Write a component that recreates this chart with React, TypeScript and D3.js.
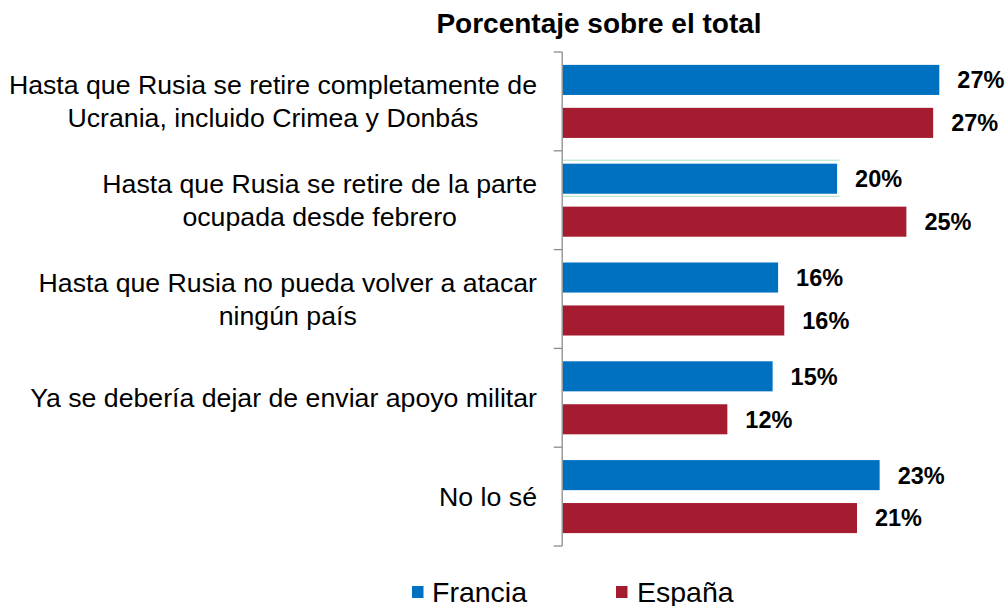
import React, { useEffect, useRef } from "react";
import * as d3 from "d3";

const categories: string[][] = [
  ["Hasta que Rusia se retire completamente de", "Ucrania, incluido Crimea y Donbás"],
  ["Hasta que Rusia se retire de la parte", "ocupada desde febrero"],
  ["Hasta que Rusia no pueda volver a atacar", "ningún país"],
  ["Ya se debería dejar de enviar apoyo militar"],
  ["No lo sé"],
];
const series = ["Francia", "España"];
const francia = [27.45, 20.0, 15.7, 15.3, 23.1];
const espana = [27.0, 25.05, 16.15, 12.0, 21.45];
const colors = ["#0070C0", "#A51B30"];
const title = "Porcentaje sobre el total";

const W = 1007;
const H = 606;
const FONT = "'Liberation Sans', Arial, sans-serif";

export default function App() {
  const ref = useRef<SVGSVGElement | null>(null);

  useEffect(() => {
    const svg = d3.select(ref.current);
    svg.selectAll("*").remove();

    const x0 = 562.7;
    const x = d3.scaleLinear().domain([0, 30]).range([x0, x0 + 30 * 13.72]);
    const y = d3
      .scaleBand<number>()
      .domain(d3.range(categories.length))
      .range([52, 546])
      .padding(0);
    const ys = d3
      .scaleBand<string>()
      .domain(series)
      .range([0, y.bandwidth()])
      .paddingInner(0.3)
      .paddingOuter(0.3);

    const data = [francia, espana];

    // title
    svg
      .append("text")
      .attr("x", 599)
      .attr("y", 33)
      .attr("text-anchor", "middle")
      .attr("font-family", FONT)
      .attr("font-weight", "bold")
      .attr("font-size", 28)
      .attr("fill", "#000")
      .text(title);

    // bars
    series.forEach((s, si) => {
      const g = svg.append("g");
      data[si].forEach((v, i) => {
        const by = (y(i) as number) + (ys(s) as number);
        g.append("rect")
          .attr("x", x(0))
          .attr("y", by)
          .attr("width", x(v) - x(0))
          .attr("height", ys.bandwidth())
          .attr("fill", colors[si]);
        g.append("text")
          .attr("x", x(v) + 18)
          .attr("y", by + ys.bandwidth() / 2 + 8.4)
          .attr("font-family", FONT)
          .attr("font-weight", "bold")
          .attr("font-size", 23.5)
          .attr("fill", "#000")
          .text(`${Math.round(v)}%`);
      });
    });

    // selection outline around second Francia bar
    {
      const i = 1;
      const by = (y(i) as number) + (ys("Francia") as number);
      const xe = x(francia[i]) + 2.5;
      [by - 3.5, by + ys.bandwidth() + 2.5].forEach((yy) => {
        svg
          .append("line")
          .attr("x1", x0)
          .attr("x2", xe)
          .attr("y1", yy)
          .attr("y2", yy)
          .attr("stroke", "#a6e0c0")
          .attr("stroke-width", 1);
      });
    }

    // axis
    const axisColor = "#8c8c8c";
    svg
      .append("line")
      .attr("x1", x0 - 0.5)
      .attr("x2", x0 - 0.5)
      .attr("y1", 52)
      .attr("y2", 546)
      .attr("stroke", axisColor)
      .attr("stroke-width", 1.3);
    const bounds = d3.range(categories.length + 1).map((i) =>
      i < categories.length ? (y(i) as number) : 546
    );
    bounds.forEach((b) => {
      svg
        .append("line")
        .attr("x1", x0 - 9)
        .attr("x2", x0 - 0.5)
        .attr("y1", b)
        .attr("y2", b)
        .attr("stroke", axisColor)
        .attr("stroke-width", 1.3);
    });

    // category labels
    const right = 537;
    const fs = 26.7;
    const lh = 33;
    categories.forEach((lines, i) => {
      const c = (y(i) as number) + y.bandwidth() / 2;
      const g = svg.append("g");
      const texts = lines.map((l, li) =>
        g
          .append("text")
          .attr("font-family", FONT)
          .attr("font-size", fs)
          .attr("fill", "#000")
          .attr("text-anchor", "middle")
          .attr("y", c + (li - (lines.length - 1) / 2) * lh + 0.358 * fs)
          .text(l)
      );
      const maxW = d3.max(texts, (t) => (t.node() as SVGTextElement).getComputedTextLength()) || 0;
      texts.forEach((t) => t.attr("x", right - maxW / 2));
    });

    // legend
    const legend = [
      { label: series[0], color: colors[0], sx: 412, tx: 432 },
      { label: series[1], color: colors[1], sx: 616, tx: 637 },
    ];
    legend.forEach((l) => {
      svg
        .append("rect")
        .attr("x", l.sx)
        .attr("y", 586)
        .attr("width", 11.5)
        .attr("height", 12)
        .attr("fill", l.color);
      svg
        .append("text")
        .attr("x", l.tx)
        .attr("y", 601.5)
        .attr("font-family", FONT)
        .attr("font-size", 28.5)
        .attr("fill", "#000")
        .text(l.label);
    });
  }, []);

  return (
    <svg
      ref={ref}
      width={W}
      height={H}
      viewBox={`0 0 ${W} ${H}`}
      style={{ position: "absolute", left: 0, top: 0, background: "#fff" }}
    />
  );
}
